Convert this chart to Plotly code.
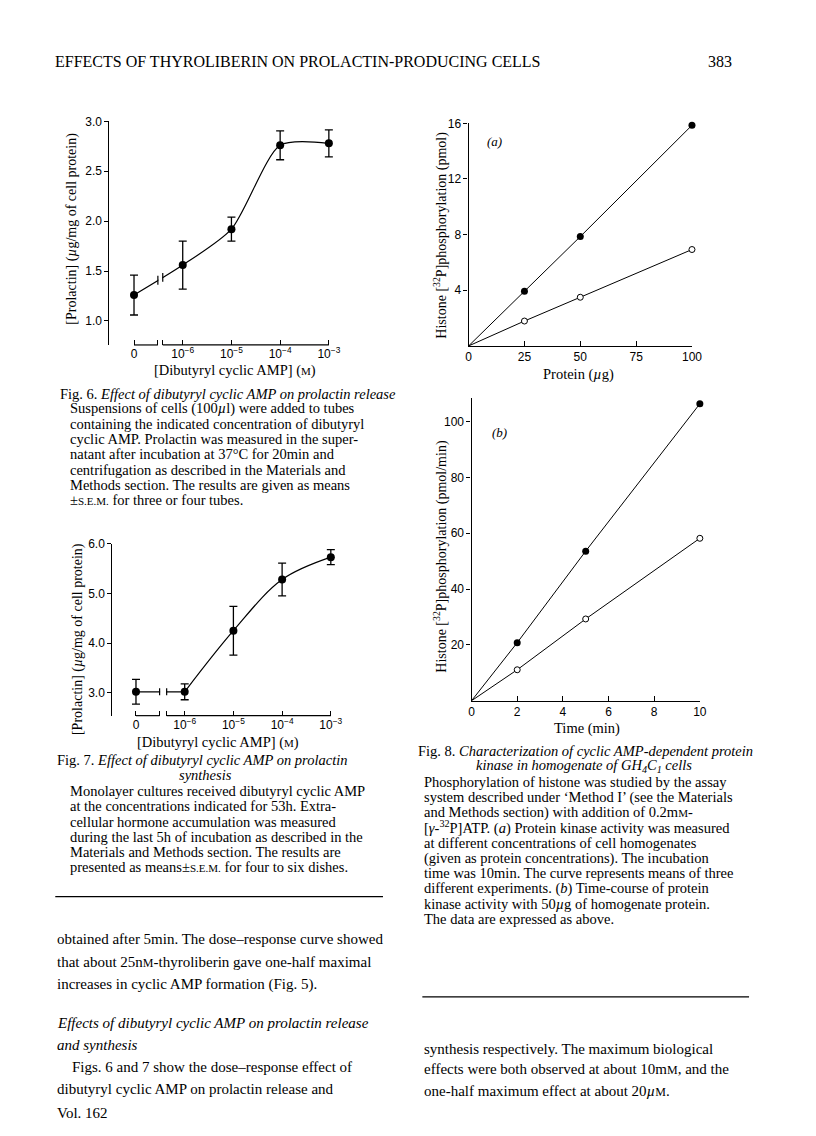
import numpy as np
import plotly.graph_objects as go

# ---- values ----
# Fig. 6: prolactin release vs [dibutyryl cyclic AMP]
dbcamp_conc = [0, 1e-6, 1e-5, 1e-4, 1e-3]
release_mean = [1.26, 1.56, 1.92, 2.76, 2.78]
release_sem = [0.20, 0.24, 0.12, 0.145, 0.135]

# Fig. 7: prolactin synthesis vs [dibutyryl cyclic AMP]
synth_mean = [3.02, 3.02, 4.25, 5.28, 5.73]
synth_sem = [0.25, 0.16, 0.49, 0.33, 0.15]

conc_ticklabels = ["0", "10<sup>−6</sup>", "10<sup>−5</sup>", "10<sup>−4</sup>", "10<sup>−3</sup>"]

# Fig. 8(a): histone phosphorylation vs protein
protein_ug = [0, 25, 50, 100]
phos_a_filled = [0, 3.93, 7.86, 15.86]
phos_a_open = [0, 1.79, 3.50, 6.93]

# Fig. 8(b): histone phosphorylation vs time
time_min = [0, 2, 5, 10]
phos_b_filled = [0, 20.8, 53.6, 106.4]
phos_b_open = [0, 11.1, 29.3, 58.2]

# ---- page geometry ----
W, H = 816, 1136
SERIF = "Liberation Serif"
SANS = "Liberation Sans"


def fx(p):
    return p / W


def fy(p):
    return 1 - p / H


# zero concentration is drawn one decade below 10^-6, past an axis break
ZERO_POS = -7
logx = [np.log10(c) if c > 0 else ZERO_POS for c in dbcamp_conc]
BRK6 = (-6.51, -6.41)
BRK7 = (-6.515, -6.37)
PAD = 0.12  # extra decades either side so end error bars are not clipped


def log_domain(px0, px3):
    # pixel positions of 0 (=-7) and 10^-3 -> padded domain
    per = (px3 - px0) / 4
    return [fx(px0 - PAD * per), fx(px3 + PAD * per)]


fig = go.Figure()
line_style = dict(color="black", width=1.2)

# Fig. 6
fig.add_trace(go.Scatter(x=logx, y=release_mean, mode="lines", xaxis="x", yaxis="y",
                         line=dict(line_style, shape="spline", smoothing=0.7), cliponaxis=False))
fig.add_trace(go.Scatter(x=logx, y=release_mean, mode="markers", xaxis="x", yaxis="y",
                         marker=dict(color="black", size=8), cliponaxis=False,
                         error_y=dict(type="data", array=release_sem, color="black", thickness=1.3, width=4)))

# Fig. 7
fig.add_trace(go.Scatter(x=logx[:2], y=synth_mean[:2], mode="lines", xaxis="x2", yaxis="y2",
                         line=line_style, cliponaxis=False))
fig.add_trace(go.Scatter(x=logx[1:], y=synth_mean[1:], mode="lines", xaxis="x2", yaxis="y2",
                         line=dict(line_style, shape="spline", smoothing=1.0), cliponaxis=False))
fig.add_trace(go.Scatter(x=logx, y=synth_mean, mode="markers", xaxis="x2", yaxis="y2",
                         marker=dict(color="black", size=8), cliponaxis=False,
                         error_y=dict(type="data", array=synth_sem, color="black", thickness=1.3, width=4)))

# Fig. 8 (a) and (b)
filled = dict(color="black", size=7)
hollow = dict(color="white", size=6, line=dict(color="black", width=1))
for xs, yf, yo, xa, ya in [(protein_ug, phos_a_filled, phos_a_open, "x3", "y3"),
                           (time_min, phos_b_filled, phos_b_open, "x4", "y4")]:
    for ys, mk in [(yf, filled), (yo, hollow)]:
        fig.add_trace(go.Scatter(x=xs, y=ys, mode="lines", xaxis=xa, yaxis=ya,
                                 line=dict(color="black", width=1), cliponaxis=False))
        fig.add_trace(go.Scatter(x=xs[1:], y=ys[1:], mode="markers", xaxis=xa, yaxis=ya,
                                 marker=mk, cliponaxis=False))

ax = dict(showgrid=False, zeroline=False, showline=True, linecolor="black", linewidth=1.2,
          ticks="outside", ticklen=4, tickwidth=1.2, tickcolor="black",
          tickfont=dict(family=SANS, size=12, color="black"), fixedrange=True)

x_rng = [ZERO_POS - PAD, -3 + PAD]
x6_dom = log_domain(125, 323)
x7_dom = log_domain(127, 325)
y6_dom = [fy(332), fy(107)]
y7_dom = [fy(705), fy(532)]

conc_tickvals = logx[:1] + [BRK6[0], BRK6[1]] + logx[1:]
conc_tickvals7 = logx[:1] + [BRK7[0], BRK7[1]] + logx[1:]
conc_ticktext = conc_ticklabels[:1] + ["", ""] + conc_ticklabels[1:]

fig.update_layout(
    xaxis=dict(ax, domain=x6_dom, range=x_rng, anchor="y", ticks="inside", ticklen=5, showline=False,
               tickvals=conc_tickvals, ticktext=conc_ticktext),
    yaxis=dict(ax, domain=y6_dom, range=[0.76, 3.0], anchor="free", position=fx(99),
               tickvals=[1.0, 1.5, 2.0, 2.5, 3.0], tickformat=".1f"),
    xaxis2=dict(ax, domain=x7_dom, range=x_rng, anchor="y2", ticks="inside", ticklen=5, showline=False,
                tickvals=conc_tickvals7, ticktext=conc_ticktext),
    yaxis2=dict(ax, domain=y7_dom, range=[2.54, 6.0], anchor="free", position=fx(102),
                tickvals=[3.0, 4.0, 5.0, 6.0], tickformat=".1f"),
    xaxis3=dict(ax, domain=[fx(465), fx(692)], range=[0, 100], anchor="y3", ticks="inside", ticklen=5,
                tickvals=[0, 25, 50, 75, 100]),
    yaxis3=dict(ax, domain=[fy(333), fy(109)], range=[0, 16], anchor="x3", tickvals=[4, 8, 12, 16]),
    xaxis4=dict(ax, domain=[fx(468), fx(700)], range=[0, 10], anchor="y4", ticks="inside", ticklen=5,
                tickvals=[0, 2, 4, 6, 8, 10]),
    yaxis4=dict(ax, domain=[fy(690), fy(385)], range=[0, 108.6], anchor="x4",
                tickvals=[20, 40, 60, 80, 100]),
)


def xmap(v, dom):
    return dom[0] + (v - x_rng[0]) / (x_rng[1] - x_rng[0]) * (dom[1] - dom[0])


shapes = []
# broken concentration axes drawn as two segments
for brk, dom, ybot in [(BRK6, x6_dom, y6_dom[0]), (BRK7, x7_dom, y7_dom[0])]:
    for a, b in [(ZERO_POS, brk[0]), (brk[1], logx[-1])]:
        shapes.append(dict(type="line", xref="paper", yref="paper", x0=xmap(a, dom), x1=xmap(b, dom),
                           y0=ybot, y1=ybot, line=dict(color="black", width=1.2)))
# curve breaks
for brk, ys, xa, ya, half in [(BRK6, release_mean, "x", "y", 0.045), (BRK7, synth_mean, "x2", "y2", 0.07)]:
    yc = np.interp(brk, logx[:2], ys[:2])
    shapes.append(dict(type="rect", xref=xa, yref=ya, layer="above", x0=brk[0] + 0.01, x1=brk[1] - 0.01,
                       y0=min(yc) - 3 * half, y1=max(yc) + 3 * half, fillcolor="white", line_width=0))
    for bx, by in zip(brk, yc):
        shapes.append(dict(type="line", xref=xa, yref=ya, layer="above", x0=bx, x1=bx,
                           y0=by - half, y1=by + half, line=dict(color="black", width=1.2)))
# horizontal rules
for x0, x1, y in [(45, 378, 887), (418, 750, 988)]:
    shapes.append(dict(type="line", xref="paper", yref="paper", x0=fx(x0), x1=fx(x1),
                       y0=fy(y), y1=fy(y), line=dict(color="black", width=1.3)))

annotations = []


def note(text, x, y, size=14.5, anchor="left", angle=0, family=SERIF):
    annotations.append(dict(text=text, x=fx(x), y=fy(y), xref="paper", yref="paper",
                            xanchor=anchor, yanchor="middle", showarrow=False, textangle=angle,
                            font=dict(family=family, size=size, color="black")))


def sc(s, size=11):
    return f"<span style='font-size:{size}px'>{s}</span>"


note("EFFECTS OF THYROLIBERIN ON PROLACTIN-PRODUCING CELLS", 43, 47, size=16)
note("383", 735, 47, size=16, anchor="right")

# axis titles
note("[Prolactin] (<i>µ</i>g/mg of cell protein)", 62, 215, size=14, anchor="center", angle=-90)
note("[Dibutyryl cyclic AMP] (" + sc("M") + ")", 228, 358, size=14.5, anchor="center")
note("[Prolactin] (<i>µ</i>g/mg of cell protein)", 68, 628, size=14, anchor="center", angle=-90)
note("[Dibutyryl cyclic AMP] (" + sc("M") + ")", 210, 732, size=14.5, anchor="center")
note("Histone [<sup>32</sup>P]phosphorylation (pmol)", 437, 222, size=14, anchor="center", angle=-90)
note("Protein (<i>µ</i>g)", 577, 362, size=14.5, anchor="center")
note("<i>(a)</i>", 482, 127, size=13)
note("Histone [<sup>32</sup>P]phosphorylation (pmol/min)", 437, 545, size=14, anchor="center", angle=-90)
note("Time (min)", 585, 718, size=14.5, anchor="center")
note("<i>(b)</i>", 487, 420, size=13)

STEP = 15.3
cap6 = ["Suspensions of cells (100<i>µ</i>l) were added to tubes",
        "containing the indicated concentration of dibutyryl",
        "cyclic AMP. Prolactin was measured in the super-",
        "natant after incubation at 37°C for 20min and",
        "centrifugation as described in the Materials and",
        "Methods section. The results are given as means",
        "±" + sc("S.E.M.") + " for three or four tubes."]
note("Fig. 6. <i>Effect of dibutyryl cyclic AMP on prolactin release</i>", 48, 381)
for i, t in enumerate(cap6):
    note(t, 58, 381 + STEP * (i + 1))

cap7 = ["Monolayer cultures received dibutyryl cyclic AMP",
        "at the concentrations indicated for 53h. Extra-",
        "cellular hormone accumulation was measured",
        "during the last 5h of incubation as described in the",
        "Materials and Methods section. The results are",
        "presented as means±" + sc("S.E.M.") + " for four to six dishes."]
note("Fig. 7. <i>Effect of dibutyryl cyclic AMP on prolactin</i>", 45, 750)
note("<i>synthesis</i>", 198, 765, anchor="center")
for i, t in enumerate(cap7):
    note(t, 58, 781 + STEP * i)

cap8 = ["Phosphorylation of histone was studied by the assay",
        "system described under ‘Method I’ (see the Materials",
        "and Methods section) with addition of 0.2m" + sc("M") + "-",
        "[<i>γ</i>-<sup>32</sup>P]ATP. (<i>a</i>) Protein kinase activity was measured",
        "at different concentrations of cell homogenates",
        "(given as protein concentrations). The incubation",
        "time was 10min. The curve represents means of three",
        "different experiments. (<i>b</i>) Time-course of protein",
        "kinase activity with 50<i>µ</i>g of homogenate protein.",
        "The data are expressed as above."]
note("Fig. 8. <i>Characterization of cyclic AMP-dependent protein</i>", 412, 741)
note("<i>kinase in homogenate of GH<sub>4</sub>C<sub>1</sub> cells</i>", 582, 756, anchor="center")
for i, t in enumerate(cap8):
    note(t, 418, 772 + STEP * i)

# running text
BODY = 15
for t, x, y in [("obtained after 5min. The dose–response curve showed", 45, 930),
                ("that about 25n" + sc("M", 12) + "-thyroliberin gave one-half maximal", 45, 953),
                ("increases in cyclic AMP formation (Fig. 5).", 45, 976),
                ("<i>Effects of dibutyryl cyclic AMP on prolactin release</i>", 45, 1014),
                ("<i>and synthesis</i>", 45, 1036),
                ("Figs. 6 and 7 show the dose–response effect of", 60, 1059),
                ("dibutyryl cyclic AMP on prolactin release and", 45, 1081),
                ("Vol. 162", 45, 1105),
                ("synthesis respectively. The maximum biological", 418, 1040),
                ("effects were both observed at about 10m" + sc("M", 12) + ", and the", 418, 1061),
                ("one-half maximum effect at about 20<i>µ</i>" + sc("M", 12) + ".", 418, 1083)]:
    note(t, x, y, size=BODY)

fig.update_layout(
    width=W, height=H, margin=dict(l=0, r=0, t=0, b=0),
    paper_bgcolor="white", plot_bgcolor="white", showlegend=False,
    shapes=shapes, annotations=annotations,
)

fig.write_html("out.html")
